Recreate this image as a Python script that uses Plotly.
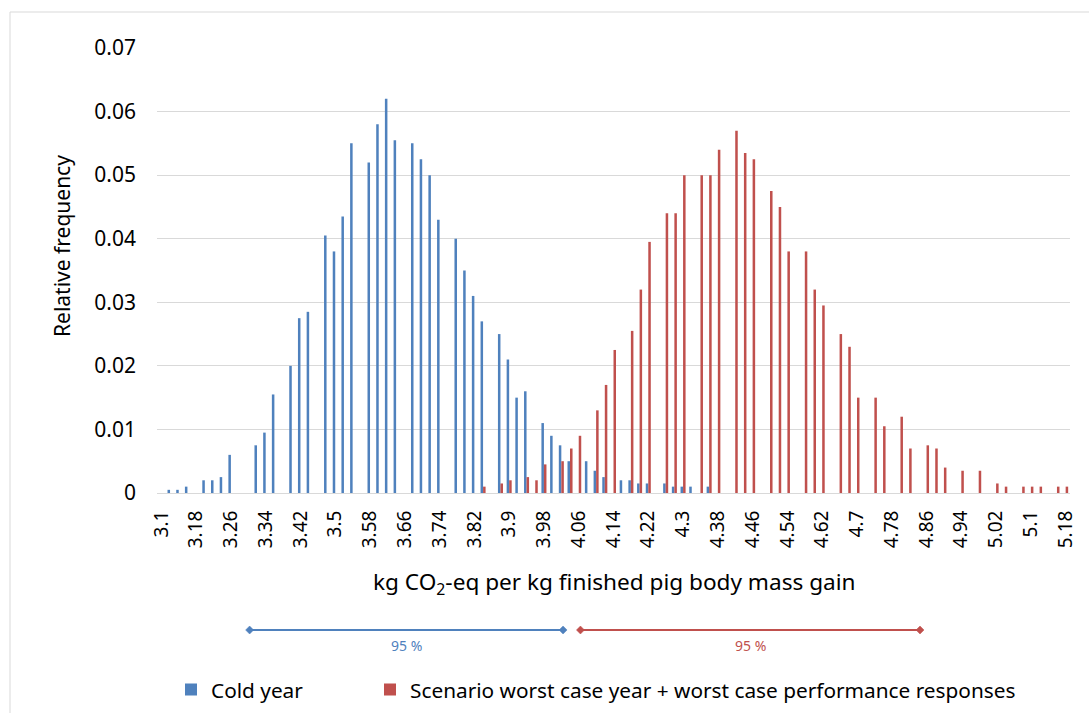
import plotly.graph_objects as go

# ---- data ----
cold_x = [3.12, 3.14, 3.16, 3.20, 3.22, 3.24, 3.26, 3.32, 3.34, 3.36, 3.40, 3.42, 3.44,
          3.48, 3.50, 3.52, 3.54, 3.58, 3.60, 3.62, 3.64, 3.68, 3.70, 3.72, 3.74, 3.78,
          3.80, 3.82, 3.84, 3.88, 3.90, 3.92, 3.94, 3.98, 4.00, 4.02, 4.04, 4.08, 4.10,
          4.12, 4.16, 4.18, 4.20, 4.22, 4.26, 4.28, 4.30, 4.32, 4.36]
cold_y = [0.0005, 0.0005, 0.001, 0.002, 0.002, 0.0025, 0.006, 0.0075, 0.0095, 0.0155, 0.020,
          0.0275, 0.0285, 0.0405, 0.038, 0.0435, 0.055, 0.052, 0.058, 0.062, 0.0555, 0.055,
          0.0525, 0.050, 0.043, 0.040, 0.035, 0.031, 0.027, 0.025, 0.021, 0.015, 0.016, 0.011,
          0.009, 0.0075, 0.005, 0.005, 0.0035, 0.0025, 0.002, 0.002, 0.0015, 0.0015, 0.0015,
          0.001, 0.001, 0.001, 0.001]

worst_x = [3.84, 3.88, 3.90, 3.94, 3.96, 3.98, 4.02, 4.04, 4.06, 4.10, 4.12, 4.14, 4.18,
           4.20, 4.22, 4.26, 4.28, 4.30, 4.34, 4.36, 4.38, 4.42, 4.44, 4.46, 4.50, 4.52,
           4.54, 4.58, 4.60, 4.62, 4.66, 4.68, 4.70, 4.74, 4.76, 4.80, 4.82, 4.86, 4.88,
           4.90, 4.94, 4.98, 5.02, 5.04, 5.08, 5.10, 5.12, 5.16, 5.18]
worst_y = [0.001, 0.0015, 0.002, 0.0025, 0.002, 0.0045, 0.005, 0.007, 0.009, 0.013, 0.017,
           0.0225, 0.0255, 0.032, 0.0395, 0.044, 0.044, 0.050, 0.050, 0.050, 0.054, 0.057,
           0.0535, 0.0525, 0.0475, 0.045, 0.038, 0.038, 0.032, 0.0295, 0.025, 0.023, 0.015,
           0.015, 0.0105, 0.012, 0.007, 0.0075, 0.007, 0.004, 0.0035, 0.0035, 0.0015, 0.001,
           0.001, 0.001, 0.001, 0.001, 0.001]

tick_labels = ["3.1", "3.18", "3.26", "3.34", "3.42", "3.5", "3.58", "3.66", "3.74", "3.82",
               "3.9", "3.98", "4.06", "4.14", "4.22", "4.3", "4.38", "4.46", "4.54", "4.62",
               "4.7", "4.78", "4.86", "4.94", "5.02", "5.1", "5.18"]

cold_ci = [3.303, 4.024]
worst_ci = [4.064, 4.845]

names = ["Cold year", "Scenario worst case year + worst case performance responses"]
BLUE = "#4F81BD"
RED = "#C0504D"
FONT = "Noto Sans"

fig = go.Figure()
fig.add_trace(go.Bar(x=cold_x, y=cold_y, name=names[0], legend="legend",
                     marker=dict(color=BLUE, line_width=0)))
fig.add_trace(go.Bar(x=worst_x, y=worst_y, name=names[1], legend="legend2",
                     marker=dict(color=RED, line_width=0)))

# plot area geometry (px) used to convert paper coordinates
L, R, T, B = 157, 1070, 48, 493
W, H = R - L, B - T


def py(pix):
    return (B - pix) / H


def px(pix):
    return (pix - L) / W


shapes = []
annotations = []
for ci, col in ((cold_ci, BLUE), (worst_ci, RED)):
    shapes.append(dict(type="line", xref="x", yref="paper", x0=ci[0], x1=ci[1],
                       y0=py(630), y1=py(630), line=dict(color=col, width=2)))
    for xv in ci:
        shapes.append(dict(type="path", xref="x", yref="paper", xsizemode="pixel",
                           ysizemode="pixel", xanchor=xv, yanchor=py(630),
                           path="M -4 0 L 0 4 L 4 0 L 0 -4 Z",
                           fillcolor=col, line=dict(color=col, width=0.5)))
    annotations.append(dict(x=(ci[0] + ci[1]) / 2, y=py(645), xref="x", yref="paper",
                            xanchor="center", yanchor="middle",
                            text="95 %", showarrow=False,
                            font=dict(family=FONT, size=14, color=col)))

# chart border (top and left visible)
shapes.append(dict(type="line", xref="paper", yref="paper", x0=px(10), x1=px(1095),
                   y0=py(12), y1=py(12), line=dict(color="#D9D9D9", width=1)))
shapes.append(dict(type="line", xref="paper", yref="paper", x0=px(10), x1=px(10),
                   y0=py(12), y1=py(720), line=dict(color="#D9D9D9", width=1)))

annotations.append(dict(x=px(62), y=py(246), xref="paper", yref="paper",
                        xanchor="center", yanchor="middle",
                        text="Relative frequency", textangle=-90, showarrow=False,
                        font=dict(family=FONT, size=21, color="black")))
annotations.append(dict(x=px(614), y=py(583), xref="paper", yref="paper",
                        xanchor="center", yanchor="middle",
                        text="kg CO<sub>2</sub>-eq per kg finished pig body mass gain",
                        showarrow=False, font=dict(family=FONT, size=22.6, color="black")))

legend_common = dict(orientation="h", yanchor="middle", xanchor="left",
                     font=dict(family=FONT, size=20.8, color="black"),
                     itemwidth=30, bgcolor="rgba(0,0,0,0)")

fig.update_layout(
    width=1089, height=713,
    margin=dict(l=L, r=1089 - R, t=T, b=713 - B, autoexpand=False),
    paper_bgcolor="white", plot_bgcolor="white",
    barmode="group", bargap=0.42, bargroupgap=0,
    font=dict(family=FONT, size=20, color="black"),
    showlegend=True,
    legend=dict(x=px(171), y=py(690), **legend_common),
    legend2=dict(x=px(370), y=py(690), **legend_common),
    shapes=shapes,
    annotations=annotations,
    xaxis=dict(type="linear", range=[3.09, 5.19],
               tickvals=[float(t) for t in tick_labels], ticktext=tick_labels,
               tickangle=-90, showgrid=False, zeroline=False,
               showline=True, linecolor="#D9D9D9", linewidth=1, ticks="",
               ticklabelstandoff=9,
               tickfont=dict(family=FONT, size=19, color="black")),
    yaxis=dict(range=[0, 0.07], dtick=0.01, tick0=0, showgrid=True, gridcolor="#D9D9D9",
               gridwidth=1, zeroline=False, showline=False, ticks="",
               ticklabelstandoff=20,
               tickfont=dict(family=FONT, size=21, color="black")),
)

fig.write_html("out.html", config={"displayModeBar": False},
               post_script="document.body.style.margin='0px';")
